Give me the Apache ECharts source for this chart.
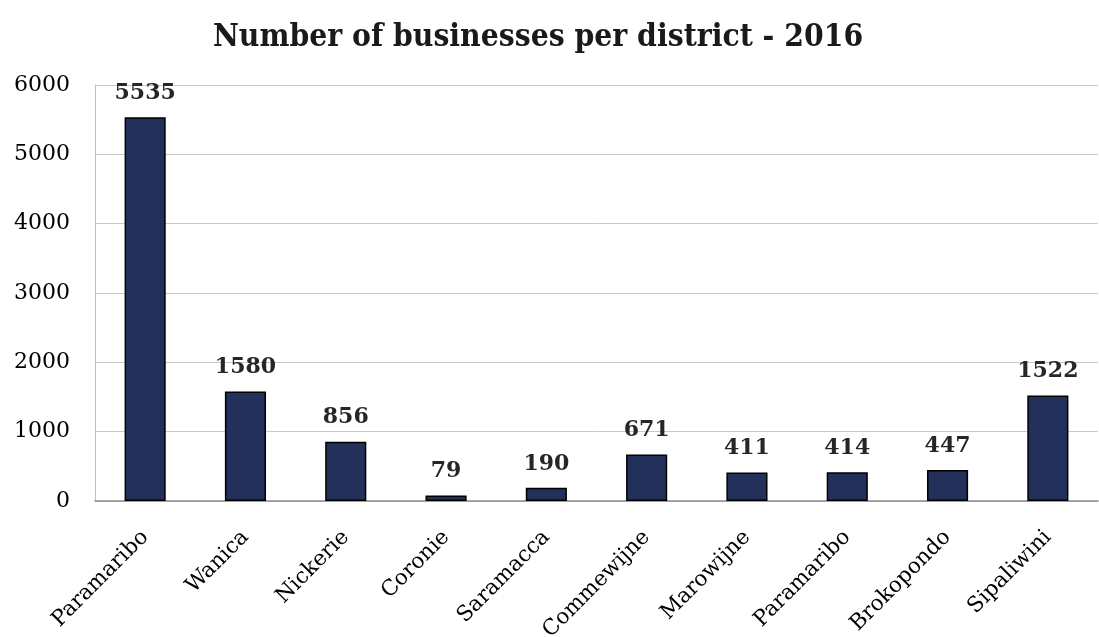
<!DOCTYPE html>
<html>
<head>
<meta charset="utf-8">
<script src="https://cdn.jsdelivr.net/npm/echarts@6/dist/echarts.min.js"></script>
<style>
  html, body { margin: 0; padding: 0; background: #fff; }
  #chart { width: 1099px; height: 637px; }
</style>
</head>
<body>
<div id="chart"></div>
<script>
// Businesses registered per district, 2016
const districts = ['Paramaribo', 'Wanica', 'Nickerie', 'Coronie', 'Saramacca',
                   'Commewijne', 'Marowijne', 'Paramaribo', 'Brokopondo', 'Sipaliwini'];
const businesses = [5535, 1580, 856, 79, 190, 671, 411, 414, 447, 1522];
const yTicks = [0, 1000, 2000, 3000, 4000, 5000, 6000];

const serif = '"DejaVu Serif", "Liberation Serif", serif';
const serifNarrow = '"DejaVu Serif Condensed", "DejaVu Serif", serif';

const chart = echarts.init(document.getElementById('chart'), null, { renderer: 'canvas' });
chart.setOption({
  animation: false,
  backgroundColor: '#ffffff',
  title: {
    text: 'Number of businesses per district - 2016',
    left: 533,
    textAlign: 'center',
    top: 17,
    textStyle: { fontFamily: serifNarrow, fontWeight: 'bold', fontSize: 31.5, color: '#1a1a1a' }
  },
  grid: { left: 95, right: 1, top: 85, bottom: 136, containLabel: false, outerBoundsMode: 'none' },
  xAxis: {
    type: 'category',
    data: districts,
    axisLine: { lineStyle: { color: '#8c8c8c', width: 1.5 } },
    axisTick: { show: false },
    axisLabel: {
      interval: 0,
      rotate: 45,
      margin: 33,
      fontFamily: serif,
      fontSize: 21.5,
      color: '#000'
    }
  },
  yAxis: {
    type: 'value',
    min: yTicks[0],
    max: yTicks[yTicks.length - 1],
    interval: 1000,
    axisLine: { show: true, lineStyle: { color: '#bfbfbf', width: 1 } },
    axisTick: { show: false },
    splitLine: { lineStyle: { color: '#c8c8c8', width: 1 } },
    axisLabel: {
      margin: 25,
      fontFamily: serif,
      fontSize: 22,
      color: '#000',
      formatter: v => String(v)
    }
  },
  series: [{
    type: 'bar',
    data: businesses,
    barWidth: '41%',
    itemStyle: { color: '#22305a', borderColor: '#000', borderWidth: 1.5 },
    label: {
      show: true,
      position: 'top',
      distance: 13,
      fontFamily: serif,
      fontWeight: 'bold',
      fontSize: 22,
      color: '#262626'
    }
  }]
});
</script>
</body>
</html>
